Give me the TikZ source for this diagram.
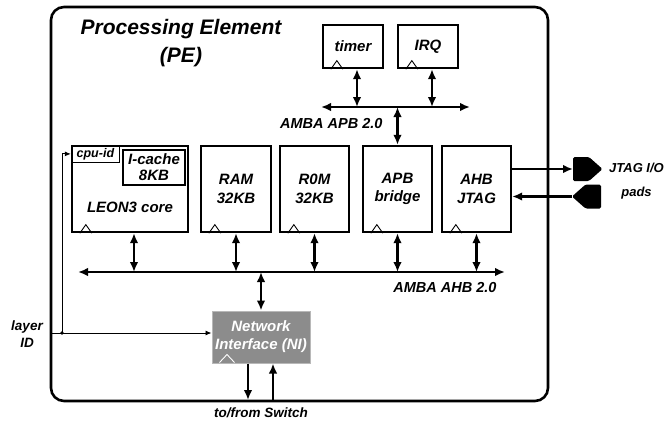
\documentclass[tikz,border=0pt]{standalone}
\usepackage{fontspec}
\setmainfont{Liberation Sans}
\usetikzlibrary{arrows.meta}

\begin{document}
\begin{tikzpicture}[x=1pt,y=-1pt,font=\bfseries\itshape]
% Styles
\tikzstyle{fleche}=[<->,>={Latex[length=10pt,width=8.5pt]},line width=2.1pt]
\tikzstyle{flecheun}=[->,>={Latex[length=10pt,width=8.5pt]},line width=2.1pt]
\tikzstyle{fil}=[->,>={Latex[length=6pt,width=5pt]},line width=0.9pt]
\tikzstyle{bloc}=[draw,line width=2.3pt,rectangle,inner sep=0pt,align=center,font=\fontsize{15}{18.5}\selectfont\bfseries\itshape]
\tikzstyle{souspave}=[draw,line width=1.1pt,rectangle,inner sep=0pt,align=center]
\tikzstyle{etiquette}=[font=\fontsize{14.5}{17}\selectfont\bfseries\itshape]
\tikzstyle{legende}=[align=center,font=\fontsize{13.5}{17}\selectfont\bfseries\itshape]
\tikzstyle{plot}=[fill=black,rounded corners=1.5pt]
\tikzstyle{horloge}=[line width=0.9pt]
\useasboundingbox (0,0) rectangle (665,421);
% Cadre
\node[draw,line width=2.6pt,rounded corners=13pt,minimum width=497,minimum height=394,inner sep=0pt] (PE) at (299.5,204) {};
\node[align=center,font=\fontsize{21}{28}\selectfont\bfseries\itshape] (titre) at (181,43) {Processing Element\\(PE)};
% Blocs
\node[bloc,minimum width=60,minimum height=43] (T) at (353,46.5) {timer};
\node[bloc,minimum width=60,minimum height=43] (I) at (428,46.5) {IRQ};
\node[bloc,minimum width=116,minimum height=86] (L) at (130,189) {};
\node[bloc,minimum width=70,minimum height=86] (R) at (236,189) {RAM\\32KB};
\node[bloc,minimum width=69,minimum height=86] (M) at (314.5,189) {R0M\\32KB};
\node[bloc,minimum width=69,minimum height=86] (B) at (397.5,189) {APB\\bridge};
\node[bloc,minimum width=69,minimum height=86] (J) at (476.5,189) {AHB\\JTAG};
\node[souspave,anchor=north west,minimum width=48,minimum height=17,font=\fontsize{12.5}{14}\selectfont\bfseries\itshape] (C) at (L.north west) {cpu-id};
\node[souspave,minimum width=62,minimum height=35,font=\fontsize{15}{16}\selectfont\bfseries\itshape] (K) at (154,167.5) {I-cache\\8KB};
\node[font=\fontsize{15}{18}\selectfont\bfseries\itshape] (Lt) at (130,207) {LEON3 core};
\node[rectangle,fill=black!45,draw=black!28,line width=1pt,minimum width=98,minimum height=52,inner sep=0pt,align=center,text=white,font=\fontsize{15}{18}\selectfont\bfseries\itshape] (NI) at (261,337) {Network\\Interface (NI)};
\foreach \b in {T,I,L,R,M,B,J} {
  \draw[horloge] ([xshift=9pt]\b.south west) -- ++(6,-8.5) -- ++(6,8.5);
}
\draw[horloge,white] ([xshift=8pt]NI.south west) ++(0,-1) -- ++(7.5,-8) -- ++(7.5,8);
% Plots JTAG
\coordinate (P1) at (573,169);
\coordinate (P2) at (572,196.5);
\fill[plot] (P1) ++(0,-12) -- ++(16,0) -- ++(13.5,12) -- ++(-13.5,12) -- ++(-16,0) -- cycle;
\fill[plot] (P2) -- ++(13.5,-12) -- ++(15.5,0) -- ++(0,24) -- ++(-15.5,0) -- cycle;
% Bus
\coordinate (apbg) at (321,107);
\coordinate (apbd) at (470,107);
\coordinate (ahbg) at (78,272);
\coordinate (ahbd) at (505,272);
\draw[fleche] (apbg) -- (apbd);
\draw[fleche] (ahbg) -- (ahbd);
\node[etiquette,anchor=east] (apb) at (386,124) {AMBA APB 2.0};
\node[etiquette,anchor=east] (ahb) at (500,288) {AMBA AHB 2.0};
% Arcs
\draw[fleche] ([xshift=4pt]T.south) -- ([xshift=4pt]T.south |- apbg);
\draw[fleche] ([xshift=4pt]I.south) -- ([xshift=4pt]I.south |- apbg);
\draw[fleche] (B.north) -- (B.north |- apbg);
\draw[fleche] ([xshift=4pt]L.south) -- ([xshift=4pt]L.south |- ahbg);
\draw[fleche] (R.south) -- (R.south |- ahbg);
\draw[fleche] (M.south) -- (M.south |- ahbg);
\draw[fleche] (B.south) -- (B.south |- ahbg);
\draw[fleche] (J.south) -- (J.south |- ahbg);
\draw[fleche] (NI.north) -- (NI.north |- ahbg);
\draw[flecheun] (J.east |- P1) -- (P1);
\draw[flecheun] (P2) -- (P2 -| J.east);
% Switch
\coordinate (sw1) at (248,400);
\coordinate (sw2) at (273,400);
\draw[flecheun] (NI.south -| sw1) -- (sw1);
\draw[flecheun] (sw2) -- (NI.south -| sw2);
\node[legende] (sw) at (261,413) {to/from Switch};
% Layer ID
\coordinate (lid) at (52,333);
\coordinate (pt) at (62,333);
\draw[fil] (lid) -- (lid -| NI.west);
\fill (pt) circle (1.9);
\draw[fil] (pt) |- (C.west);
\node[legende] (layer) at (27,334) {layer\\ID};
\node[legende,font=\fontsize{13}{24}\selectfont\bfseries\itshape] (jtag) at (636.5,181) {JTAG I/O\\pads};
\end{tikzpicture}
\end{document}
